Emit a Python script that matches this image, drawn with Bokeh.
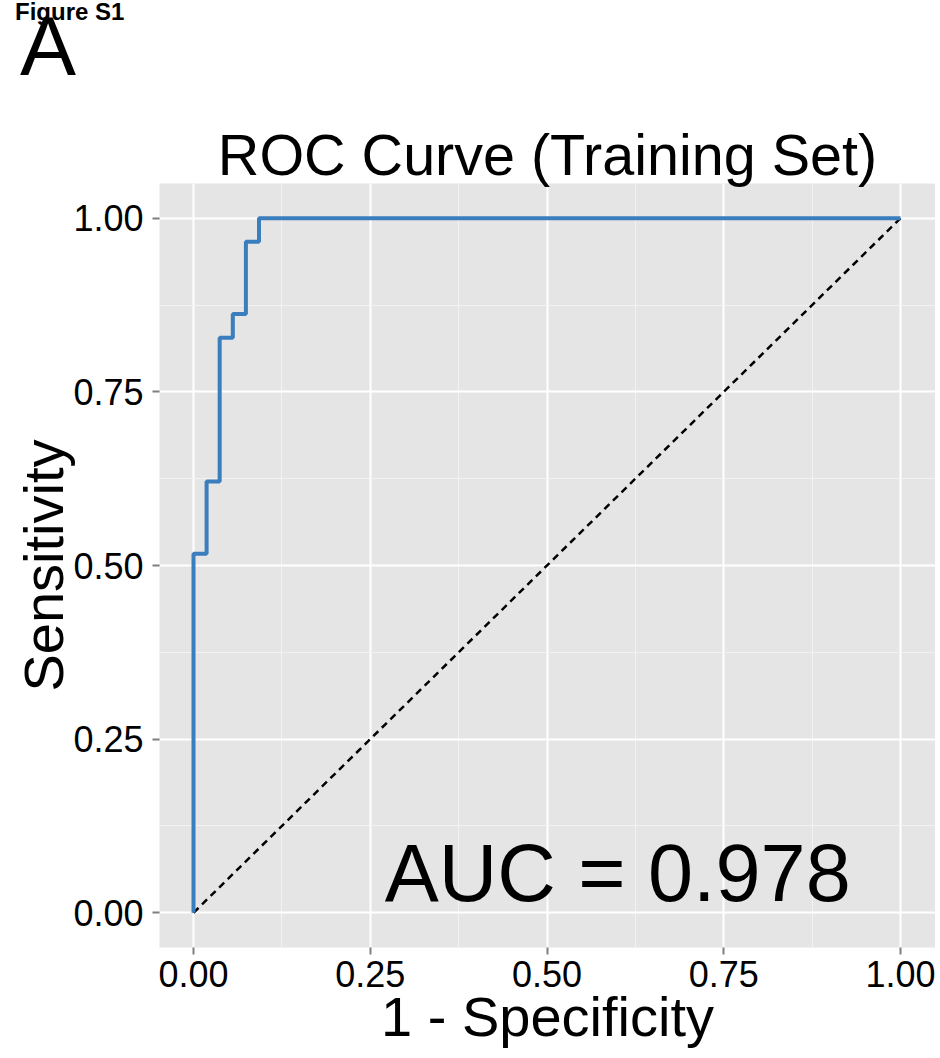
from bokeh.plotting import figure
from bokeh.layouts import column
from bokeh.models import FixedTicker, Label, Range1d, Div
from bokeh.embed import file_html
from bokeh.resources import INLINE

# ---- data ----
fpr = [0.0, 0.0, 0.0185, 0.0185, 0.0370, 0.0370, 0.0556, 0.0556,
       0.0741, 0.0741, 0.0926, 0.0926, 1.0]
tpr = [0.0, 0.517, 0.517, 0.621, 0.621, 0.828, 0.828, 0.862,
       0.862, 0.966, 0.966, 1.0, 1.0]
diag_x = [0.0, 1.0]
diag_y = [0.0, 1.0]
major_ticks = [0.0, 0.25, 0.5, 0.75, 1.0]
tick_labels = ["0.00", "0.25", "0.50", "0.75", "1.00"]
minor_ticks = [0.125, 0.375, 0.625, 0.875]
auc_text = "AUC = 0.978"
title_text = "ROC Curve (Training Set)"
x_label = "1 - Specificity"
y_label = "Sensitivity"
figure_tag = "Figure S1"
panel_tag = "A"

FONT = "Liberation Sans"

# ---- header strip with figure / panel tags ----
head_html = (
    '<div style="position:relative;width:935px;height:100px;'
    'font-family:\'Liberation Sans\',Arial,sans-serif;color:black;">'
    '<span style="position:absolute;left:15px;top:0px;font-size:24px;'
    'font-weight:bold;line-height:1;white-space:nowrap;">%s</span>'
    '<span style="position:absolute;left:20px;top:4px;font-size:84px;'
    'line-height:1;white-space:nowrap;">%s</span>'
    '</div>' % (figure_tag, panel_tag)
)
head = Div(text=head_html, width=935, height=100, margin=(0, 0, 0, 0))

# ---- main ROC panel ----
p = figure(width=935, height=950,
           x_range=Range1d(-0.0481, 1.0495), y_range=Range1d(-0.05, 1.05),
           output_backend="svg", toolbar_location=None,
           min_border_left=159, min_border_right=0,
           min_border_top=83, min_border_bottom=98,
           background_fill_color="#E5E5E5", border_fill_color="white",
           outline_line_color=None)

p.title.text = title_text
p.title.align = "center"
p.title.text_font = FONT
p.title.text_font_size = "57.5px"
p.title.text_font_style = "normal"
p.title.text_color = "black"
p.title.standoff = -7

for ax in (p.xaxis[0], p.yaxis[0]):
    ax.ticker = FixedTicker(ticks=major_ticks, minor_ticks=minor_ticks)
    ax.major_label_overrides = dict(zip(major_ticks, tick_labels))
    ax.axis_line_color = None
    ax.major_tick_line_color = "#7F7F7F"
    ax.major_tick_line_width = 2
    ax.major_tick_out = 7
    ax.major_tick_in = 0
    ax.minor_tick_line_color = None
    ax.major_label_text_font = FONT
    ax.major_label_text_font_size = "36px"
    ax.major_label_text_color = "black"
    ax.axis_label_text_font = FONT
    ax.axis_label_text_font_size = "56px"
    ax.axis_label_text_font_style = "normal"
    ax.axis_label_text_color = "black"
    ax.axis_label_standoff = -5

p.xaxis[0].major_label_standoff = 6
p.yaxis[0].major_label_standoff = 9
p.xaxis.axis_label = x_label
p.yaxis.axis_label = y_label

for g in (p.xgrid[0], p.ygrid[0]):
    g.grid_line_color = "white"
    g.grid_line_width = 2
    g.minor_grid_line_color = "#F2F2F2"
    g.minor_grid_line_width = 1

p.line(diag_x, diag_y, line_color="black", line_width=2.5, line_dash="7 5")
p.line(fpr, tpr, line_color="#3A7EBE", line_width=4)

p.add_layout(Label(x=0.6, y=0.057, text=auc_text, text_align="center",
                   text_baseline="alphabetic", text_font=FONT,
                   text_font_size="81px", text_color="black"))

layout = column(head, p, spacing=0)
open("out.html", "w").write(file_html(layout, INLINE))
